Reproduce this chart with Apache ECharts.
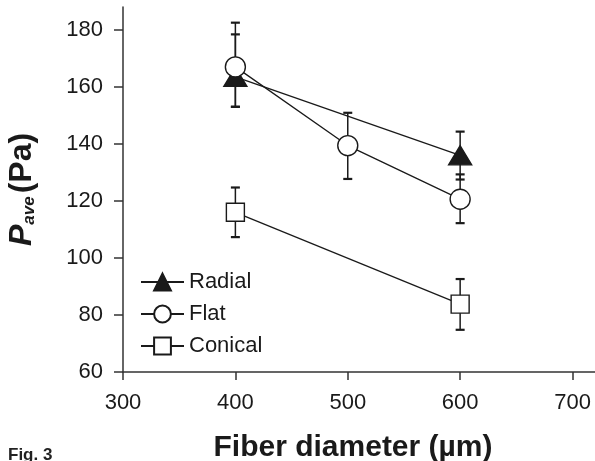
<!DOCTYPE html>
<html>
<head>
<meta charset="utf-8">
<script src="https://cdn.jsdelivr.net/npm/echarts@6/dist/echarts.min.js"></script>
<style>
  html, body { margin: 0; padding: 0; background: #fff; }
  #chart { width: 595px; height: 461px; }
</style>
</head>
<body>
<div id="chart"></div>
<script>
const xTicks = [300, 400, 500, 600, 700]
const yTicks = [60, 80, 100, 120, 140, 160, 180]

const radialX = [400, 600]
const radialY = [163.5, 136]
const radialLow = [153, 127.5]
const radialHigh = [178.4, 144.3]

const flatX = [400, 500, 600]
const flatY = [167, 139.4, 120.6]
const flatLow = [153, 127.7, 112.2]
const flatHigh = [182.5, 150.9, 129.3]

const conicalX = [400, 600]
const conicalY = [116, 83.8]
const conicalLow = [107.3, 74.8]
const conicalHigh = [124.7, 92.6]

const ink = '#1a1a1a'
const font = '"Liberation Sans", Arial, Helvetica, sans-serif'

const chart = echarts.init(document.getElementById('chart'))

function pairs(xs, ys) {
  return xs.map((x, i) => [x, ys[i]])
}

function bars(xs, lo, hi) {
  return xs.map((x, i) => [x, lo[i], hi[i]])
}

function renderErrorBar(params, api) {
  const x = api.value(0)
  const lo = api.coord([x, api.value(1)])
  const hi = api.coord([x, api.value(2)])
  const w = 4.5
  return {
    type: 'group',
    children: [
      { type: 'line', shape: { x1: lo[0], y1: lo[1], x2: hi[0], y2: hi[1] }, style: { stroke: ink, lineWidth: 1.5 } },
      { type: 'line', shape: { x1: lo[0] - w, y1: lo[1], x2: lo[0] + w, y2: lo[1] }, style: { stroke: ink, lineWidth: 2.2 } },
      { type: 'line', shape: { x1: hi[0] - w, y1: hi[1], x2: hi[0] + w, y2: hi[1] }, style: { stroke: ink, lineWidth: 2.2 } },
    ],
  }
}

function errorSeries(xs, lo, hi) {
  return {
    type: 'custom',
    renderItem: renderErrorBar,
    data: bars(xs, lo, hi),
    z: 1,
    silent: true,
  }
}

function lineSeries(name, xs, ys, symbol, size, fill) {
  return {
    name: name,
    type: 'line',
    data: pairs(xs, ys),
    symbol: symbol,
    symbolSize: size,
    showAllSymbol: true,
    lineStyle: { color: ink, width: 1.3 },
    itemStyle: { color: fill, borderColor: ink, borderWidth: 1.4, opacity: 1 },
    z: 3,
    silent: true,
  }
}

chart.setOption({
  animation: false,
  textStyle: { fontFamily: font },
  grid: { left: 123, right: 0, top: 7, bottom: 89, outerBoundsMode: 'none' },
  legend: {
    data: ['Radial', 'Flat', 'Conical'],
    orient: 'vertical',
    left: 140,
    top: 271,
    padding: 0,
    itemWidth: 43,
    itemHeight: 21,
    itemGap: 10,
    textStyle: { fontSize: 22, color: ink, fontFamily: font },
  },
  xAxis: {
    type: 'value',
    min: 300,
    max: 720,
    interval: 100,
    name: 'Fiber diameter (µm)',
    nameLocation: 'middle',
    nameGap: 61,
    nameTextStyle: { fontSize: 30, fontWeight: 'bold', color: ink, fontFamily: font, padding: [0, 12, 0, 0] },
    axisLine: { lineStyle: { color: '#333', width: 1.5 } },
    axisTick: { show: true, length: 8, lineStyle: { color: '#333', width: 1.5 }, customValues: xTicks },
    axisLabel: { fontSize: 22, color: ink, margin: 20, customValues: xTicks },
    splitLine: { show: false },
  },
  yAxis: {
    type: 'value',
    min: 60,
    max: 188,
    interval: 20,
    name: '{p|P}{s|ave}{t|(Pa)}',
    nameLocation: 'middle',
    nameRotate: 90,
    nameGap: 85,
    nameTextStyle: {
      color: ink,
      rich: {
        p: { fontSize: 32, fontWeight: 'bold', fontStyle: 'italic', fontFamily: font, color: ink },
        s: { fontSize: 17, fontWeight: 'bold', fontStyle: 'italic', fontFamily: font, color: ink, verticalAlign: 'bottom', padding: [11, 3, 0, 0] },
        t: { fontSize: 32, fontWeight: 'bold', fontFamily: font, color: ink },
      },
    },
    axisLine: { show: true, lineStyle: { color: '#333', width: 1.5 } },
    axisTick: { show: true, length: 9, lineStyle: { color: '#333', width: 1.5 }, customValues: yTicks },
    axisLabel: { fontSize: 22, color: ink, margin: 20, customValues: yTicks },
    splitLine: { show: false },
  },
  graphic: [
    {
      type: 'text',
      left: 8,
      top: 447,
      style: { text: 'Fig. 3', font: 'bold 17px ' + font, fill: '#222' },
    },
  ],
  series: [
    errorSeries(radialX, radialLow, radialHigh),
    errorSeries(flatX, flatLow, flatHigh),
    errorSeries(conicalX, conicalLow, conicalHigh),
    lineSeries('Radial', radialX, radialY, 'triangle', [23, 19], ink),
    lineSeries('Flat', flatX, flatY, 'circle', 20, '#fff'),
    lineSeries('Conical', conicalX, conicalY, 'rect', 18, '#fff'),
  ],
})

window.addEventListener('resize', () => chart.resize())
</script>
</body>
</html>
